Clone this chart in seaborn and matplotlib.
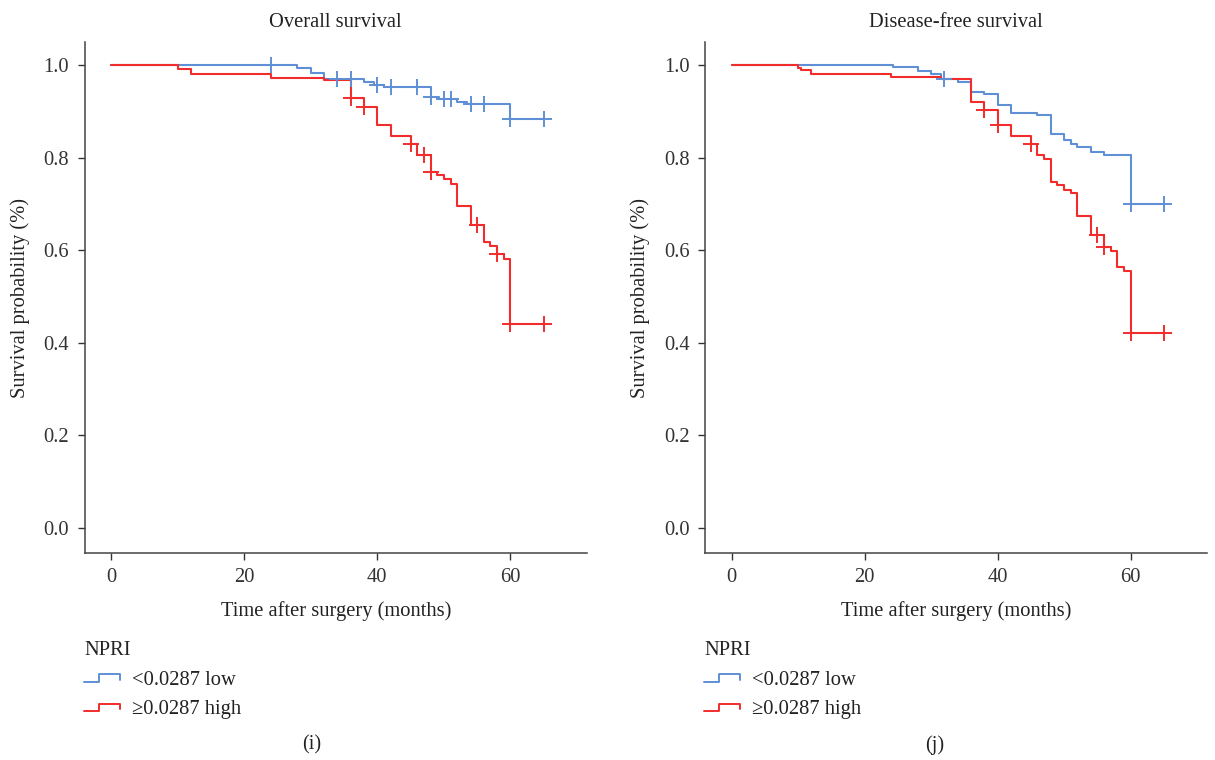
import numpy as np
import pandas as pd
import matplotlib
matplotlib.use("Agg")
import matplotlib.pyplot as plt
import seaborn as sns
from matplotlib.legend_handler import HandlerBase
from matplotlib.lines import Line2D

# ---------------- data ----------------
groups = ["<0.0287 low", "\u22650.0287 high"]
legend_title = "NPRI"
titles = ["Overall survival", "Disease-free survival"]
panel_tags = ["(i)", "(j)"]
x_label = "Time after surgery (months)"
y_label = "Survival probability (%)"
x_ticks = [0, 20, 40, 60]
y_ticks = [0.0, 0.2, 0.4, 0.6, 0.8, 1.0]

# Overall survival – low
os_low_t = [0, 28, 30, 32, 38, 39.5, 41, 48, 49.3, 52, 53.5, 60, 65]
os_low_s = [1.0, 0.993, 0.982, 0.970, 0.964, 0.958, 0.952, 0.932, 0.926, 0.921, 0.916, 0.883, 0.883]
os_low_cens = [24, 34, 36, 40, 42, 46, 48, 50, 51, 54, 56, 60, 65]
# Overall survival – high
os_high_t = [0, 10, 12, 24, 32, 36, 38, 40, 42, 45, 46, 48, 49, 50, 51, 52, 54, 56, 57, 58, 59, 60, 65]
os_high_s = [1.0, 0.991, 0.981, 0.973, 0.968, 0.929, 0.909, 0.871, 0.846, 0.829, 0.806, 0.770, 0.762,
             0.755, 0.744, 0.696, 0.654, 0.618, 0.610, 0.591, 0.581, 0.440, 0.440]
os_high_cens = [36, 38, 45, 47, 48, 55, 58, 60, 65]

# Disease-free survival – low
dfs_low_t = [0, 24.2, 28, 30, 31.5, 34, 36, 38, 40, 42, 46, 48, 50, 51, 52, 54, 56, 60, 65]
dfs_low_s = [1.0, 0.995, 0.988, 0.980, 0.970, 0.964, 0.942, 0.938, 0.914, 0.897, 0.892, 0.852, 0.839,
             0.829, 0.824, 0.813, 0.806, 0.699, 0.699]
dfs_low_cens = [32, 60, 65]
# Disease-free survival – high
dfs_high_t = [0, 10, 10.4, 12, 24, 31.5, 36, 38, 40, 42, 45, 46, 47, 48, 49, 50, 51, 52, 54, 56, 57,
              58, 59, 60, 65]
dfs_high_s = [1.0, 0.994, 0.990, 0.981, 0.975, 0.969, 0.920, 0.903, 0.870, 0.847, 0.829, 0.805, 0.797,
              0.748, 0.740, 0.731, 0.724, 0.675, 0.633, 0.608, 0.599, 0.564, 0.556, 0.421, 0.421]
dfs_high_cens = [38, 40, 45, 55, 56, 60, 65]

colors = ["#5f8fd5", "#f22c2c"]

# ---------------- style ----------------
sns.set_style("ticks")
plt.rcParams["font.family"] = ["Liberation Serif", "DejaVu Serif"]
plt.rcParams["text.color"] = "#222222"
plt.rcParams["axes.labelcolor"] = "#222222"
plt.rcParams["xtick.color"] = "#333333"
plt.rcParams["ytick.color"] = "#333333"
FS = 14.8

fig = plt.figure(figsize=(12.15, 7.6), dpi=100)
ax_l = fig.add_axes([84.5 / 1215, 1 - 553 / 760, (587 - 84.5) / 1215, (553 - 42) / 760])
ax_r = fig.add_axes([705 / 1215, 1 - 553 / 760, (1207 - 705) / 1215, (553 - 42) / 760])


def step_df(t, s, name):
    return pd.DataFrame({"time": t, "surv": s, "group": name})


def cens_df(t_cens, t, s, name):
    idx = np.searchsorted(np.asarray(t), np.asarray(t_cens), side="right") - 1
    return pd.DataFrame({"time": t_cens, "surv": np.asarray(s)[idx], "group": name})


panels = [
    (ax_l, [(os_low_t, os_low_s, os_low_cens), (os_high_t, os_high_s, os_high_cens)]),
    (ax_r, [(dfs_low_t, dfs_low_s, dfs_low_cens), (dfs_high_t, dfs_high_s, dfs_high_cens)]),
]

for i, (ax, curves) in enumerate(panels):
    lines = pd.concat([step_df(t, s, g) for (t, s, _), g in zip(curves, groups)])
    cens = pd.concat([cens_df(c, t, s, g) for (t, s, c), g in zip(curves, groups)])
    for g, col in zip(groups, colors):
        sub = lines[lines.group == g]
        sns.lineplot(data=sub, x="time", y="surv", ax=ax, color=col, lw=1.5,
                     drawstyle="steps-post", estimator=None, sort=False, legend=False)
        csub = cens[cens.group == g]
        sns.scatterplot(data=csub, x="time", y="surv", ax=ax, color=col, marker="+",
                        s=120, linewidth=1.4, legend=False, zorder=3)
    ax.set_xlim(-4, 71.5)
    ax.set_ylim(-0.054, 1.05)
    ax.set_xticks(x_ticks)
    ax.set_yticks(y_ticks)
    ax.set_yticklabels([f"{v:.1f}" for v in y_ticks])
    ax.tick_params(labelsize=FS, length=5, width=1, pad=6)
    ax.set_xlabel(x_label, fontsize=FS, labelpad=10)
    ax.set_ylabel(y_label, fontsize=FS, labelpad=10)
    ax.set_title(titles[i], fontsize=FS, pad=11)
    for sp in ["top", "right"]:
        ax.spines[sp].set_visible(False)
    for sp in ["left", "bottom"]:
        ax.spines[sp].set_color("#444444")
        ax.spines[sp].set_linewidth(1.1)


class StepHandler(HandlerBase):
    def create_artists(self, legend, orig_handle, xdescent, ydescent, width, height, fontsize, trans):
        xs = np.array([0, 0.42, 0.42, 1.0, 1.0]) * width - xdescent
        ys = np.array([0.2, 0.2, 0.75, 0.75, 0.35]) * height - ydescent
        ln = Line2D(xs, ys, color=orig_handle.get_color(), lw=1.4, transform=trans)
        return [ln]


# legends and panel tags
leg_x = [84 / 1215, 704 / 1215]
tag_x = [312 / 1215, 935 / 1215]
for i in range(2):
    handles = [Line2D([], [], color=c) for c in colors]
    leg = fig.legend(handles, groups, title=legend_title, loc="upper left",
                     bbox_to_anchor=(leg_x[i], 1 - 641 / 760), frameon=False, fontsize=FS,
                     title_fontsize=FS, handler_map={Line2D: StepHandler()},
                     handlelength=1.75, handletextpad=0.6, labelspacing=0.5, borderpad=0,
                     borderaxespad=0, alignment="left")
    fig.text(tag_x[i], 1 - 745 / 760, panel_tags[i], ha="center", va="center", fontsize=FS)

fig.savefig("out.png", dpi=100)
